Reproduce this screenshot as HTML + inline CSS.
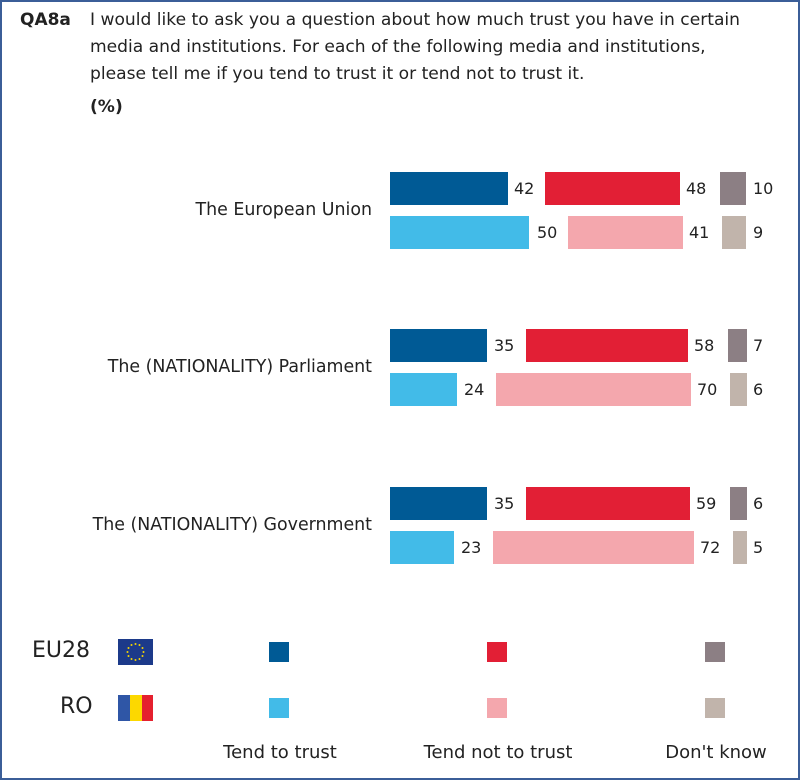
<!DOCTYPE html>
<html><head><meta charset="utf-8"><style>
*{margin:0;padding:0;box-sizing:border-box}
body{width:800px;height:780px;background:#fff;font-family:"DejaVu Sans","Liberation Sans",sans-serif;color:#222;position:relative;overflow:hidden}
.frame{position:absolute;left:0;top:0;width:800px;height:780px;border:2px solid #3b5e98}
.a{position:absolute;white-space:nowrap}
.t{font-size:17.1px;line-height:27px}
.b{position:absolute;height:33px}
.n{position:absolute;font-size:16px;line-height:33px}
.r{position:absolute;font-size:17.4px;text-align:right;width:360px;left:12px}
.sq{position:absolute;width:20px;height:20px}
</style></head><body>
<div class="frame"></div>
<div class="a t" style="left:20px;top:7px;font-weight:bold;font-size:17px">QA8a</div>
<div class="a t" style="left:90px;top:7px">I would like to ask you a question about how much trust you have in certain<br>media and institutions. For each of the following media and institutions,<br>please tell me if you tend to trust it or tend not to trust it.</div>
<div class="a t" style="left:90px;top:94px;font-weight:bold">(%)</div>

<div class="r" style="top:200px">The European Union</div>
<div class="r" style="top:357px">The (NATIONALITY) Parliament</div>
<div class="r" style="top:515px">The (NATIONALITY) Government</div>

<div class="b" style="left:390px;top:172px;width:118px;background:#005a95"></div><div class="n" style="left:514px;top:172px">42</div>
<div class="b" style="left:545px;top:172px;width:135px;background:#e21f35"></div><div class="n" style="left:686px;top:172px">48</div>
<div class="b" style="left:720px;top:172px;width:26px;background:#8c7f84"></div><div class="n" style="left:753px;top:172px">10</div>
<div class="b" style="left:390px;top:216px;width:139px;background:#42bbe8"></div><div class="n" style="left:537px;top:216px">50</div>
<div class="b" style="left:568px;top:216px;width:115px;background:#f4a7ad"></div><div class="n" style="left:689px;top:216px">41</div>
<div class="b" style="left:722px;top:216px;width:24px;background:#c1b4ab"></div><div class="n" style="left:753px;top:216px">9</div>
<div class="b" style="left:390px;top:329px;width:97px;background:#005a95"></div><div class="n" style="left:494px;top:329px">35</div>
<div class="b" style="left:526px;top:329px;width:162px;background:#e21f35"></div><div class="n" style="left:694px;top:329px">58</div>
<div class="b" style="left:728px;top:329px;width:19px;background:#8c7f84"></div><div class="n" style="left:753px;top:329px">7</div>
<div class="b" style="left:390px;top:373px;width:67px;background:#42bbe8"></div><div class="n" style="left:464px;top:373px">24</div>
<div class="b" style="left:496px;top:373px;width:195px;background:#f4a7ad"></div><div class="n" style="left:697px;top:373px">70</div>
<div class="b" style="left:730px;top:373px;width:17px;background:#c1b4ab"></div><div class="n" style="left:753px;top:373px">6</div>
<div class="b" style="left:390px;top:487px;width:97px;background:#005a95"></div><div class="n" style="left:494px;top:487px">35</div>
<div class="b" style="left:526px;top:487px;width:164px;background:#e21f35"></div><div class="n" style="left:696px;top:487px">59</div>
<div class="b" style="left:730px;top:487px;width:17px;background:#8c7f84"></div><div class="n" style="left:753px;top:487px">6</div>
<div class="b" style="left:390px;top:531px;width:64px;background:#42bbe8"></div><div class="n" style="left:461px;top:531px">23</div>
<div class="b" style="left:493px;top:531px;width:201px;background:#f4a7ad"></div><div class="n" style="left:700px;top:531px">72</div>
<div class="b" style="left:733px;top:531px;width:14px;background:#c1b4ab"></div><div class="n" style="left:753px;top:531px">5</div>

<div class="a" style="left:32px;top:638px;font-size:22px">EU28</div>
<div class="a" style="left:60px;top:694px;font-size:22px">RO</div>
<div class="a" style="left:118px;top:639px;width:35px;height:26px;background:#1c3a8a"></div>
<svg class="a" style="left:118px;top:639px" width="35" height="26"><g fill="#f5d400">
<circle cx="17.5" cy="5" r="1"/><circle cx="21.5" cy="6" r="1"/><circle cx="24.5" cy="9" r="1"/><circle cx="25.5" cy="13" r="1"/><circle cx="24.5" cy="17" r="1"/><circle cx="21.5" cy="20" r="1"/><circle cx="17.5" cy="21" r="1"/><circle cx="13.5" cy="20" r="1"/><circle cx="10.5" cy="17" r="1"/><circle cx="9.5" cy="13" r="1"/><circle cx="10.5" cy="9" r="1"/><circle cx="13.5" cy="6" r="1"/></g></svg>
<div class="a" style="left:118px;top:695px;width:12px;height:26px;background:#2f56a6"></div>
<div class="a" style="left:130px;top:695px;width:12px;height:26px;background:#fcd800"></div>
<div class="a" style="left:142px;top:695px;width:11px;height:26px;background:#e5202e"></div>
<div class="sq" style="left:269px;top:642px;background:#005a95"></div>
<div class="sq" style="left:269px;top:698px;background:#42bbe8"></div>
<div class="sq" style="left:487px;top:642px;background:#e21f35"></div>
<div class="sq" style="left:487px;top:698px;background:#f4a7ad"></div>
<div class="sq" style="left:705px;top:642px;background:#8c7f84"></div>
<div class="sq" style="left:705px;top:698px;background:#c1b4ab"></div>
<div class="a" style="left:180px;width:200px;text-align:center;top:742px;font-size:18px">Tend to trust</div>
<div class="a" style="left:398px;width:200px;text-align:center;top:742px;font-size:18px">Tend not to trust</div>
<div class="a" style="left:616px;width:200px;text-align:center;top:742px;font-size:18px">Don't know</div>
</body></html>
